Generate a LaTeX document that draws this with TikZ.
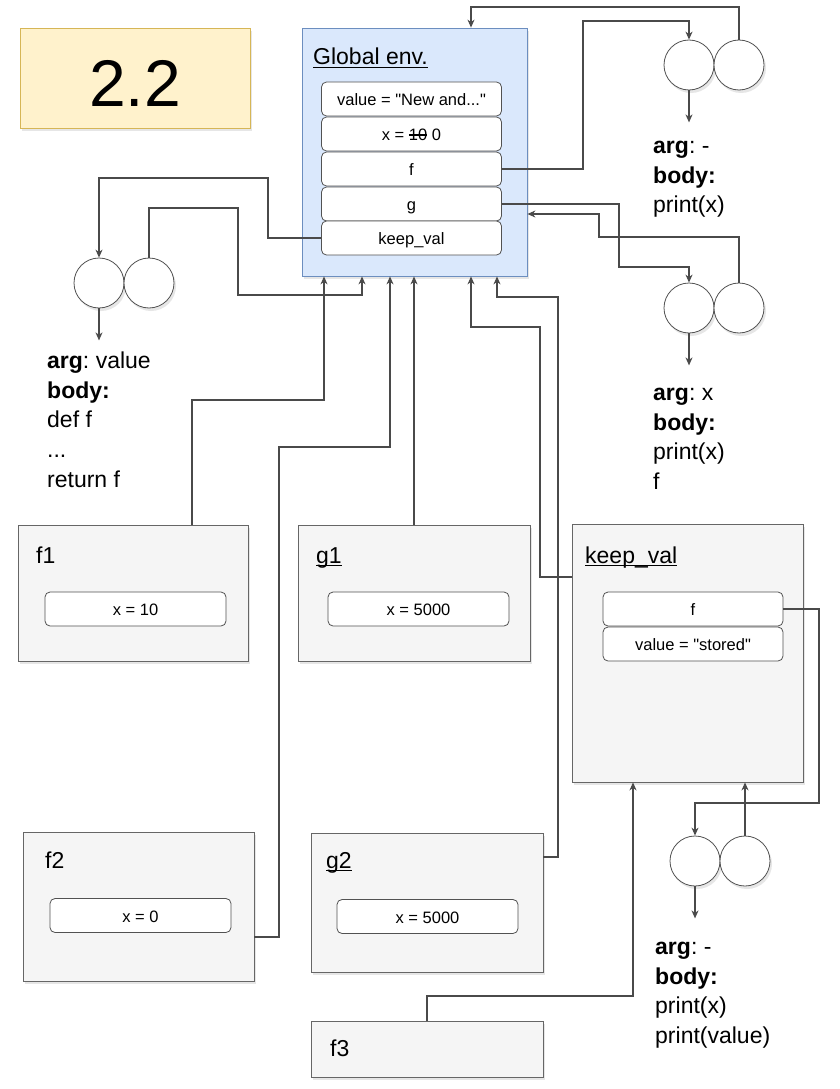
\documentclass[tikz,border=0pt]{standalone}
\usepackage{fontspec}
\setmainfont{Liberation Sans}[Ligatures=TeXOff]
\usetikzlibrary{arrows.meta, shadows}

\definecolor{notefill}{HTML}{FFF2CC}
\definecolor{notedraw}{HTML}{D6B656}
\definecolor{envfill}{HTML}{DAE8FC}
\definecolor{envdraw}{HTML}{6C8EBF}
\definecolor{boxfill}{HTML}{F5F5F5}
\definecolor{boxdraw}{HTML}{666666}
\definecolor{linegray}{HTML}{4A4A4A}

\newcommand{\strk}[1]{\setbox0\hbox{#1}\rlap{\rule[0.3em]{\wd0}{0.07em}}#1}
\newcommand{\ulbl}[1]{\setbox0\hbox{#1}\rlap{\rule[-0.14em]{\wd0}{0.06em}}#1}
\frenchspacing

\begin{document}
\begin{tikzpicture}[x=1pt, y=-1pt,
    shade/.style={drop shadow={shadow xshift=2pt, shadow yshift=-3pt, opacity=0.2}},
    titlebox/.style={draw=notedraw, fill=notefill, line width=0.8pt, minimum width=230pt, minimum height=100pt, shade},
    envbox/.style={draw=envdraw, fill=envfill, line width=0.8pt, shade},
    callbox/.style={draw=boxdraw, fill=boxfill, line width=0.8pt, shade},
    slot/.style={draw=boxdraw!80!black, fill=white, rounded corners=5pt, line width=0.8pt, minimum width=180pt, minimum height=34pt, inner sep=0pt, text height=16pt, text depth=3pt, font=\fontsize{16.5}{20}\selectfont},
    fobj/.style={circle, draw=boxdraw!80!black, fill=white, line width=0.8pt, minimum size=50pt, inner sep=0pt, shade},
    lbl/.style={anchor=base west, inner sep=0pt, font=\fontsize{23}{28}\selectfont},
    code/.style={anchor=north west, inner sep=0pt, align=left, font=\fontsize{23}{29.7}\selectfont},
    conn/.style={draw=linegray, line width=1.1pt, -{Stealth[length=8pt,width=7pt,inset=2.5pt]}}]

    \useasboundingbox (0,0) rectangle (840,1089);

    % title
    \node[titlebox] (num) at (135,78) {};
    \node[inner sep=0pt, font=\fontsize{66}{70}\selectfont] (numtxt) at (135,83) {2.2};

    % global frame
    \node[envbox, minimum width=225pt, minimum height=248pt] (genv) at (414.5,152) {};
    \node[lbl] (genvlbl) at (313,65) {\ulbl{Global env.}};
    \node[slot] (gval) at (411.5,99) {value = "New and..."};
    \node[slot] (gx) at (411.5,134) {x = \strk{10} 0};
    \node[slot] (gf) at (411.5,169) {f};
    \node[slot] (gg) at (411.5,204) {g};
    \node[slot] (gkeep) at (411.5,238) {keep\_val};

    % function objects
    \node[fobj] (kvl) at (99,283) {};
    \node[fobj] (kvr) at (149,283) {};
    \node[fobj] (fl) at (689,65) {};
    \node[fobj] (fr) at (739,65) {};
    \node[fobj] (gl) at (689,308) {};
    \node[fobj] (gr) at (739,308) {};
    \node[fobj] (ifl) at (695,861) {};
    \node[fobj] (ifr) at (745,861) {};

    \node[code] (kvtxt) at (47,351.5) {\vphantom{l}\textbf{arg}: value\\\textbf{body:}\\def f\\...\\return f};
    \node[code] (ftxt) at (653,136.5) {\vphantom{l}\textbf{arg}: -\\\textbf{body:}\\print(x)};
    \node[code] (gtxt) at (653,383.5) {\vphantom{l}\textbf{arg}: x\\\textbf{body:}\\print(x)\\f};
    \node[code] (iftxt) at (655,937.5) {\vphantom{l}\textbf{arg}: -\\\textbf{body:}\\print(x)\\print(value)};

    % call frames
    \node[callbox, minimum width=230pt, minimum height=136pt] (f1) at (133,593) {};
    \node[lbl] (f1lbl) at (36,563) {f1};
    \node[slot, minimum width=181pt] (f1x) at (135.5,609) {x = 10};

    \node[callbox, minimum width=232pt, minimum height=136pt] (g1) at (414,593) {};
    \node[lbl] (g1lbl) at (316,563) {\ulbl{g1}};
    \node[slot, minimum width=181pt] (g1x) at (418.5,609) {x = 5000};

    \node[callbox, minimum width=231pt, minimum height=258pt] (kv) at (687.5,653) {};
    \node[lbl] (kvlbl) at (585,563) {\ulbl{keep\_val}};
    \node[slot] (kf) at (693,609) {f};
    \node[slot] (kval) at (693,644) {value = "stored"};

    \node[callbox, minimum width=231pt, minimum height=149pt] (f2) at (138.5,906.5) {};
    \node[lbl] (f2lbl) at (45,868) {f2};
    \node[slot, minimum width=181pt] (f2x) at (140.5,915.5) {x = 0};

    \node[callbox, minimum width=232pt, minimum height=139pt] (g2) at (427,902.5) {};
    \node[lbl] (g2lbl) at (326,868) {\ulbl{g2}};
    \node[slot, minimum width=181pt] (g2x) at (427.5,916.5) {x = 5000};

    \node[callbox, minimum width=232pt, minimum height=56pt] (f3) at (427,1049) {};
    \node[lbl] (f3lbl) at (330,1056) {f3};

    % pointers
    \draw[conn] (gkeep.west) -| (268,178) -| (kvl.north);
    \draw[conn] (kvr.north) |- (238,208) |- (362,295) -- (362,0 |- genv.south);
    \draw[conn] (kvl.south) -- ++(0,32);

    \draw[conn] (gf.east) -| (583,21) -| (fl.north);
    \draw[conn] (fr.north) |- (471,7) -- (471,0 |- genv.north);
    \draw[conn] (fl.south) -- ++(0,32);

    \draw[conn] (gg.east) -| (619,267) -| (gl.north);
    \draw[conn] (gr.north) |- (599,237) |- (genv.east |- 0,214);
    \draw[conn] (gl.south) -- ++(0,32);

    \draw[conn] (192,0 |- f1.north) -- (192,400) -| (324,0 |- genv.south);
    \draw[conn] (f2.east |- 0,937) -| (279,447) -| (390,0 |- genv.south);
    \draw[conn] (g1.north) -- (g1.north |- genv.south);
    \draw[conn] (kv.west |- 0,577) -| (540,327) -| (471,0 |- genv.south);
    \draw[conn] (g2.east |- 0,857) -| (558,297) -| (497,0 |- genv.south);

    \draw[conn] (kf.east) -| (819,803) -| (ifl.north);
    \draw[conn] (ifr.north) -- (ifr.north |- kv.south);
    \draw[conn] (ifl.south) -- ++(0,32);
    \draw[conn] (f3.north) |- (633,996) -- (633,0 |- kv.south);

\end{tikzpicture}
\end{document}
